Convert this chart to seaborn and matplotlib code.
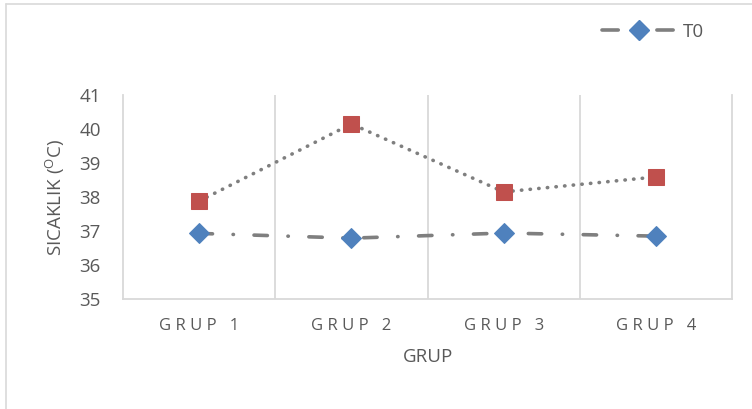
import matplotlib
matplotlib.use("Agg")
import matplotlib.pyplot as plt
from matplotlib.lines import Line2D
import numpy as np
import pandas as pd
import seaborn as sns

groups = ["GRUP 1", "GRUP 2", "GRUP 3", "GRUP 4"]
t0_values = [36.93, 36.79, 36.94, 36.85]
t1_values = [37.88, 40.15, 38.15, 38.59]
y_ticks = [35, 36, 37, 38, 39, 40, 41]

sns.set_theme(style="white")
plt.rcParams["font.family"] = ["Open Sans", "DejaVu Sans"]

df = pd.DataFrame({"grup": groups, "T0": t0_values, "T1": t1_values})

fig = plt.figure(figsize=(7.52, 4.09), dpi=100)
ax = fig.add_axes([0.1636, 0.2689, 0.8098, 0.4988])

line_grey = "#7F7F7F"
grid_grey = "#D9D9D9"
text_grey = "#595959"
dash_dot = (0, (3.7, 5.7, 0.1, 5.7))

sns.lineplot(data=df, x="grup", y="T1", ax=ax, color=line_grey, linewidth=2.6,
             linestyle=(0, (0.1, 2.3)), dash_capstyle="round", solid_capstyle="round",
             marker="s", markersize=12, markerfacecolor="#C0504D",
             markeredgecolor="#C0504D", sort=False, legend=False)
sns.lineplot(data=df, x="grup", y="T0", ax=ax, color=line_grey, linewidth=2.6,
             linestyle=dash_dot, dash_capstyle="round",
             marker="D", markersize=10, markerfacecolor="#4F81BD",
             markeredgecolor="#4F81BD", sort=False, legend=False)

ax.set_xlim(-0.5, 3.5)
ax.set_ylim(35, 41)
ax.set_yticks(y_ticks)
ax.set_yticklabels([str(v) for v in y_ticks], fontsize=13.5, color=text_grey)
ax.set_xticks(range(len(groups)))
ax.set_xticklabels([" ".join(g) for g in groups], fontsize=12, color=text_grey)
ax.set_xticks([0.5, 1.5, 2.5], minor=True)
ax.grid(False)
ax.grid(True, which="minor", axis="x", color=grid_grey, linewidth=1.3)
ax.tick_params(axis="both", which="both", length=0)
ax.tick_params(axis="x", pad=14)
ax.tick_params(axis="y", pad=16)

for side in ["left", "right", "bottom"]:
    ax.spines[side].set_visible(True)
    ax.spines[side].set_color(grid_grey)
    ax.spines[side].set_linewidth(1.3)
ax.spines["top"].set_visible(False)

ax.set_xlabel("GRUP", fontsize=13.5, color=text_grey, labelpad=10)
ax.set_ylabel(r"SICAKLIK ($\mathregular{^{O}}$C)", fontsize=13.5, color=text_grey, labelpad=9)

handle = Line2D([], [], color=line_grey, linewidth=2.6, linestyle=(0, (4.5, 10.7)),
                dash_capstyle="round", marker="D", markersize=10,
                markerfacecolor="#4F81BD", markeredgecolor="#4F81BD")
leg = fig.legend([handle], ["T0"], loc="center", bbox_to_anchor=(0.868, 0.922),
                 frameon=False, fontsize=13.5, handlelength=4.0, handletextpad=0.3)
for t in leg.get_texts():
    t.set_color(text_grey)

# chart frame edges
fig.add_artist(Line2D([0.0085, 0.0085], [0, 0.99], transform=fig.transFigure,
                      color=grid_grey, linewidth=1.2))
fig.add_artist(Line2D([0.0085, 1.0], [0.99, 0.99], transform=fig.transFigure,
                      color=grid_grey, linewidth=1.2))

fig.savefig("out.png", dpi=100, facecolor="white")
